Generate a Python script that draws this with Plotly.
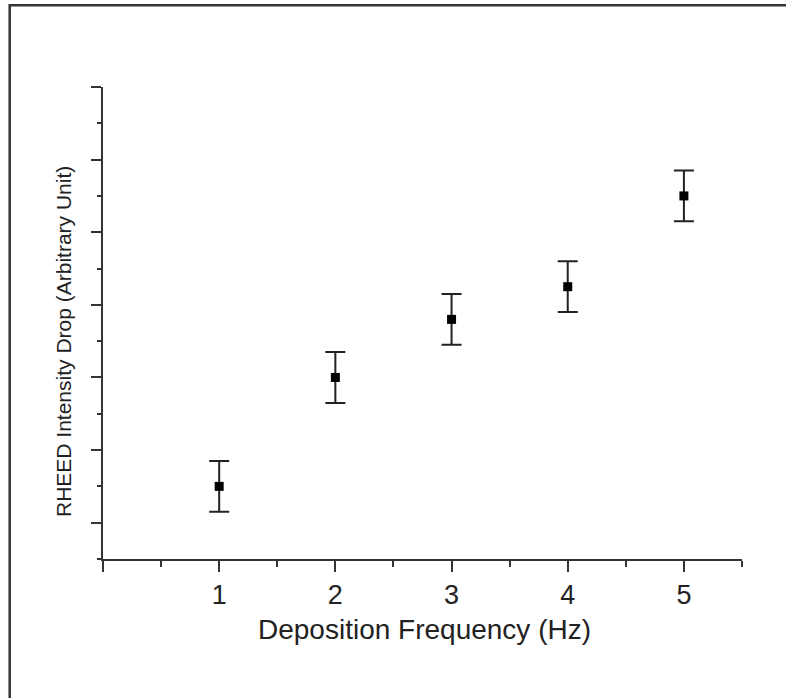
import plotly.graph_objects as go

freq = [1, 2, 3, 4, 5]
intensity_drop = [1.5, 3.0, 3.8, 4.25, 5.5]
err = [0.35, 0.35, 0.35, 0.35, 0.35]
x_tickvals = [0, 1, 2, 3, 4, 5]
x_ticktext = ["", "1", "2", "3", "4", "5"]

W, H = 786, 698
L, R, T, B = 103, 742, 87, 559
pw, ph = R - L, B - T

def px_x(x):
    return (x - L) / pw

def px_y(y):
    return (B - y) / ph

fig = go.Figure()
fig.add_trace(go.Scatter(
    x=freq, y=intensity_drop, mode="markers",
    marker=dict(symbol="square", size=9, color="black"),
    error_y=dict(type="data", array=err, visible=True, color="#222",
                 thickness=2, width=10),
    showlegend=False,
))

axis_common = dict(showgrid=False, zeroline=False, showline=True,
                   linecolor="#333", linewidth=2, ticks="outside",
                   tickcolor="#333", tickwidth=2)

fig.update_xaxes(**axis_common, range=[0, 5.5], tickvals=x_tickvals,
                 ticktext=x_ticktext, ticklen=11,
                 tickfont=dict(family="Arial, Liberation Sans", size=27, color="#222"),
                 minor=dict(dtick=0.5, tick0=0, ticks="outside", ticklen=6,
                            tickcolor="#333", tickwidth=2, showgrid=False))
fig.update_yaxes(**axis_common, range=[0.5, 7], dtick=1, tick0=0, ticklen=10,
                 showticklabels=False,
                 minor=dict(dtick=0.5, tick0=0, ticks="outside", ticklen=4,
                            tickcolor="#333", tickwidth=2, showgrid=False))

fig.add_annotation(text="Deposition Frequency (Hz)", xref="paper", yref="paper",
                   x=px_x(424.5), y=px_y(629), xanchor="center", yanchor="middle",
                   showarrow=False,
                   font=dict(family="Arial, Liberation Sans", size=28, color="#222"))
fig.add_annotation(text="RHEED Intensity Drop (Arbitrary Unit)", xref="paper", yref="paper",
                   x=px_x(63), y=px_y(342), xanchor="center", yanchor="middle",
                   textangle=-90, showarrow=False,
                   font=dict(family="Arial, Liberation Sans", size=21, color="#222"))

fig.add_shape(type="rect", xref="paper", yref="paper",
              x0=px_x(9.7), x1=px_x(820), y0=px_y(730), y1=px_y(5.3),
              line=dict(color="#333", width=2.5), fillcolor="rgba(0,0,0,0)")

fig.update_layout(width=W, height=H, plot_bgcolor="white", paper_bgcolor="white",
                  margin=dict(l=L, r=W - R, t=T, b=H - B))

fig.write_html("out.html")
